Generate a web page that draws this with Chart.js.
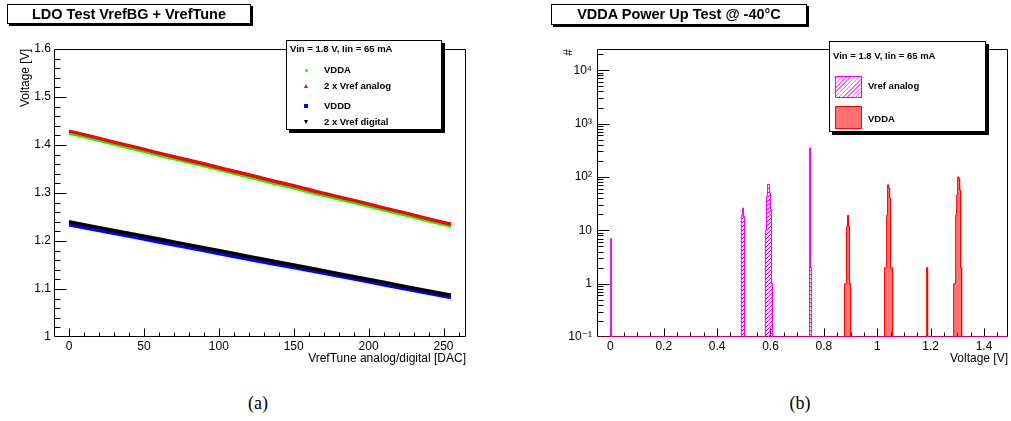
<!DOCTYPE html>
<html><head><meta charset="utf-8">
<script src="https://cdn.jsdelivr.net/npm/chart.js@4/dist/chart.umd.min.js"></script>
<style>
body{margin:0;width:1011px;height:421px;background:#fff;position:relative;overflow:hidden;font-family:"Liberation Sans",Arial,sans-serif;color:#000;}
canvas{position:absolute;top:0;}
#cA{left:0;} #cB{left:505px;}
.tbox{position:absolute;border:1px solid #000;background:#fff;box-shadow:2px 2px 0 #000;font-weight:bold;font-size:14.5px;text-align:center;box-sizing:border-box;white-space:nowrap;}
.leg{position:absolute;border:1px solid #000;background:#fff;box-shadow:3px 3px 0 #000;box-sizing:border-box;font-weight:bold;font-size:9.5px;white-space:nowrap;}
.leg span{position:absolute;}
.cap{position:absolute;font-family:"Liberation Serif","Times New Roman",serif;font-size:18px;width:60px;text-align:center;}
.mk{position:absolute;}
</style>
</head><body>
<canvas id="cA" width="505" height="370"></canvas>
<canvas id="cB" width="506" height="370"></canvas>

<div class="tbox" style="left:7px;top:4px;width:244px;height:20px;line-height:18px;">LDO Test VrefBG + VrefTune</div>
<div class="tbox" style="left:551px;top:4px;width:256px;height:21px;line-height:19px;">VDDA Power Up Test @ -40°C</div>

<div class="leg" style="left:286px;top:40px;width:156px;height:90px;">
  <span style="left:3px;top:2px;">Vin = 1.8 V, Iin = 65 mA</span>
  <div class="mk" style="left:18px;top:28px;width:3px;height:3px;border-radius:50%;background:#00ff00;"></div>
  <span style="left:37px;top:23px;">VDDA</span>
  <div class="mk" style="left:17px;top:43px;width:0;height:0;border-left:2.5px solid transparent;border-right:2.5px solid transparent;border-bottom:4px solid #ff0000;"></div>
  <span style="left:37px;top:39px;">2 x Vref analog</span>
  <div class="mk" style="left:17px;top:63px;width:4px;height:4px;background:#0000ff;"></div>
  <span style="left:37px;top:59px;">VDDD</span>
  <div class="mk" style="left:17px;top:79px;width:0;height:0;border-left:2.5px solid transparent;border-right:2.5px solid transparent;border-top:4px solid #000;"></div>
  <span style="left:37px;top:75px;">2 x Vref digital</span>
</div>

<div class="leg" style="left:829px;top:41px;width:157px;height:91px;">
  <span style="left:3px;top:8px;">Vin = 1.8 V, Iin = 65 mA</span>
  <div class="mk" style="left:5px;top:34px;width:27px;height:22px;box-sizing:border-box;border:1px solid #ff00ff;background:repeating-linear-gradient(-45deg,#ff66ff 0 1px,#fff 1px 3px);"></div>
  <span style="left:38px;top:38px;">Vref analog</span>
  <div class="mk" style="left:5px;top:64px;width:27px;height:23px;box-sizing:border-box;border:1px solid #ff0000;background:rgba(255,0,0,0.55);"></div>
  <span style="left:38px;top:71px;">VDDA</span>
</div>

<div class="cap" style="left:228px;top:393px;">(a)</div>
<div class="cap" style="left:770px;top:393px;">(b)</div>

<script>
// ---------- Panel (a) data ----------
const dacValues     = [0, 15, 30, 45, 60, 75, 90, 105, 120, 135, 150, 165, 180, 195, 210, 225, 240, 255];
const vdda          = [1.425, 1.414, 1.402, 1.391, 1.379, 1.368, 1.357, 1.345, 1.334, 1.322, 1.311, 1.299, 1.288, 1.277, 1.265, 1.254, 1.242, 1.231];
const vrefAnalog2x  = [1.429, 1.418, 1.406, 1.395, 1.383, 1.372, 1.361, 1.349, 1.338, 1.326, 1.315, 1.303, 1.292, 1.281, 1.269, 1.258, 1.246, 1.235];
const vddd          = [1.234, 1.225, 1.216, 1.207, 1.198, 1.189, 1.180, 1.171, 1.162, 1.153, 1.145, 1.136, 1.127, 1.118, 1.109, 1.100, 1.091, 1.082];
const vrefDigital2x = [1.240, 1.231, 1.222, 1.213, 1.204, 1.195, 1.186, 1.177, 1.168, 1.159, 1.150, 1.141, 1.132, 1.123, 1.114, 1.105, 1.096, 1.087];
const xTicksA = [0, 50, 100, 150, 200, 250];
const yTicksA = [1, 1.1, 1.2, 1.3, 1.4, 1.5, 1.6];

// ---------- Panel (b) data (histogram bins: lower edge + count) ----------
const binWidth = 0.00375;
const vrefBinStart = [0, 0.49125, 0.495, 0.49875, 0.58125, 0.585, 0.58875, 0.5925, 0.59625, 0.6, 0.60375, 0.74625, 0.75];
const vrefCounts   = [7, 19, 26, 18, 10, 44, 73, 72, 50, 25, 1, 350, 2];
const vddaBinStart = [0.8775, 0.88125, 0.885, 0.88875, 0.8925, 0.89625, 1.0275, 1.03125, 1.035, 1.03875, 1.0425, 1.04625, 1.05, 1.05375, 1.185, 1.28625, 1.29, 1.29375, 1.2975, 1.30125, 1.305, 1.30875, 1.3125];
const vddaCounts   = [1, 1, 12, 19, 12, 1, 2, 2, 19, 71, 62, 40, 2, 2, 2, 1, 1, 19, 45, 100, 92, 57, 2];
const xTicksB = [0, 0.2, 0.4, 0.6, 0.8, 1, 1.2, 1.4];
const yTicksB = [0.1, 1, 10, 100, 1000, 10000];
const yTickLabelsB = ['10\u207B\u00B9', '1', '10', '10\u00B2', '10\u00B3', '10\u2074'];

// ---------- helpers ----------
const FONT = {family: '"Liberation Sans", "DejaVu Sans", Arial, sans-serif', size: 12};
function fmt(v) { return String(Number(v.toFixed(2))); }
function range(a, b, step) { const r = []; for (let v = a; v <= b + 1e-9; v += step) r.push(Number(v.toFixed(6))); return r; }

const rootFrame = {
  id: 'rootFrame',
  beforeDatasetsDraw(chart, args, o) {
    const {ctx, chartArea: a} = chart;
    const xs = chart.scales.x, ys = chart.scales.y;
    ctx.save();
    ctx.strokeStyle = '#000'; ctx.lineWidth = 1;
    ctx.beginPath();
    const L = Math.round(a.left) + 0.5, T = Math.round(a.top) + 0.5, R = Math.round(a.right) - 0.5, B = Math.round(a.bottom) - 0.5;
    ctx.rect(L, T, R - L, B - T);
    const xt = (vals, len) => vals.forEach(v => { const p = Math.round(xs.getPixelForValue(v)) + 0.5; if (p <= L || p >= R) return; ctx.moveTo(p, B); ctx.lineTo(p, B - len); });
    const yt = (vals, len) => vals.forEach(v => { const p = Math.round(ys.getPixelForValue(v)) + 0.5; if (p <= T || p >= B) return; ctx.moveTo(L, p); ctx.lineTo(L + len, p); });
    xt(o.xMajor, o.xMajLen); xt(o.xMinor, o.xMinLen);
    yt(o.yMajor, o.yMajLen); yt(o.yMinor, o.yMinLen);
    ctx.stroke();
    ctx.restore();
  }
};

// ---------- Panel (a) ----------
const pts = arr => dacValues.map((x, i) => ({x, y: arr[i]}));
new Chart(document.getElementById('cA'), {
  type: 'scatter',
  data: { datasets: [
    {label: 'VDDA', data: pts(vdda), showLine: true, borderColor: '#00ff00', backgroundColor: '#00ff00', borderWidth: 3.5, pointRadius: 0, order: 2},
    {label: '2 x Vref analog', data: pts(vrefAnalog2x), showLine: true, borderColor: '#ff0000', backgroundColor: '#ff0000', borderWidth: 3.5, pointRadius: 0, order: 1},
    {label: 'VDDD', data: pts(vddd), showLine: true, borderColor: '#0000ff', backgroundColor: '#0000ff', borderWidth: 3.5, pointRadius: 0, order: 4},
    {label: '2 x Vref digital', data: pts(vrefDigital2x), showLine: true, borderColor: '#000000', backgroundColor: '#000000', borderWidth: 3.5, pointRadius: 0, order: 3}
  ]},
  options: {
    responsive: false, animation: false, devicePixelRatio: 1,
    layout: {padding: {left: 0, right: 39, top: 49, bottom: 0}},
    plugins: {legend: {display: false}, tooltip: {enabled: false},
      rootFrame: {xMajor: xTicksA, xMinor: range(-10, 265, 10).filter(v => v % 50 !== 0), xMajLen: 8, xMinLen: 4,
                  yMajor: yTicksA, yMinor: range(1, 1.6, 0.02), yMajLen: 12, yMinLen: 6}},
    scales: {
      x: {type: 'linear', min: -10, max: 265,
          afterBuildTicks: s => { s.ticks = xTicksA.map(v => ({value: v})); },
          afterFit: s => { s.height = 33; },
          grid: {display: false, drawTicks: false}, border: {display: false},
          ticks: {font: FONT, color: '#000', padding: 2, maxRotation: 0, autoSkip: false, callback: v => fmt(v)},
          title: {display: true, text: 'VrefTune analog/digital [DAC]', align: 'end', font: FONT, color: '#000', padding: {top: 0, bottom: 4}}},
      y: {type: 'linear', min: 1, max: 1.6,
          afterBuildTicks: s => { s.ticks = yTicksA.map(v => ({value: v})); },
          afterFit: s => { s.width = 54; },
          grid: {display: false, drawTicks: false}, border: {display: false},
          ticks: {font: FONT, color: '#000', padding: 3, autoSkip: false, callback: v => fmt(v)},
          title: {display: true, text: 'Voltage [V]', align: 'end', font: FONT, color: '#000', padding: {top: 18, bottom: 0}}}
    }
  },
  plugins: [rootFrame]
});

// ---------- Panel (b) ----------
function histLine(starts, counts, floor, xFrom, xTo) {
  const out = [{x: xFrom, y: floor}];
  const eq = (a, b) => Math.abs(a - b) < 1e-6;
  for (let i = 0; i < starts.length; i++) {
    const lo = starts[i], hi = lo + binWidth;
    if (i === 0 || !eq(starts[i - 1] + binWidth, lo)) out.push({x: lo, y: floor});
    out.push({x: lo, y: counts[i]});
    out.push({x: hi, y: counts[i]});
    if (i === starts.length - 1 || !eq(starts[i + 1], hi)) out.push({x: hi, y: floor});
  }
  out.push({x: xTo, y: floor});
  return out;
}
const hatch = (() => {
  const c = document.createElement('canvas'); c.width = 4; c.height = 4;
  const g = c.getContext('2d');
  g.strokeStyle = '#ff00ff'; g.lineWidth = 1;
  g.beginPath(); g.moveTo(0, 4); g.lineTo(4, 0); g.moveTo(-1, 1); g.lineTo(1, -1); g.moveTo(3, 5); g.lineTo(5, 3); g.stroke();
  return g.createPattern(c, 'repeat');
})();

const yMinorB = [];
for (let d = -1; d <= 4; d++) for (let k = 2; k <= 9; k++) yMinorB.push(k * Math.pow(10, d));

new Chart(document.getElementById('cB'), {
  type: 'line',
  data: { datasets: [
    {label: 'VDDA', data: histLine(vddaBinStart, vddaCounts, 0.1, -0.05, 1.49), borderColor: '#ff0000', backgroundColor: 'rgba(255,0,0,0.55)', fill: 'start', borderWidth: 1, pointRadius: 0, tension: 0, order: 2},
    {label: 'Vref analog', data: histLine(vrefBinStart, vrefCounts, 0.1, 0, 1.49), borderColor: '#ff00ff', backgroundColor: hatch, fill: 'start', borderWidth: 1, pointRadius: 0, tension: 0, order: 1}
  ]},
  options: {
    responsive: false, animation: false, devicePixelRatio: 1,
    layout: {padding: {left: 0, right: 3, top: 49, bottom: 0}},
    plugins: {legend: {display: false}, tooltip: {enabled: false},
      rootFrame: {xMajor: xTicksB, xMinor: range(-0.05, 1.45, 0.05), xMajLen: 8, xMinLen: 4,
                  yMajor: yTicksB, yMinor: yMinorB, yMajLen: 12, yMinLen: 6}},
    scales: {
      x: {type: 'linear', min: -0.05, max: 1.49,
          afterBuildTicks: s => { s.ticks = xTicksB.map(v => ({value: v})); },
          afterFit: s => { s.height = 33; },
          grid: {display: false, drawTicks: false}, border: {display: false},
          ticks: {font: FONT, color: '#000', padding: 2, maxRotation: 0, autoSkip: false, callback: v => fmt(v)},
          title: {display: true, text: 'Voltage [V]', align: 'end', font: FONT, color: '#000', padding: {top: 0, bottom: 4}}},
      y: {type: 'logarithmic', min: 0.1, max: 25000,
          afterBuildTicks: s => { s.ticks = yTicksB.map(v => ({value: v})); },
          afterFit: s => { s.width = 92; },
          grid: {display: false, drawTicks: false}, border: {display: false},
          ticks: {font: FONT, color: '#000', padding: 5, autoSkip: false, callback: (v, i) => yTickLabelsB[i]},
          title: {display: true, text: '#', align: 'end', font: FONT, color: '#000', padding: {top: 56, bottom: 0}}}
    }
  },
  plugins: [rootFrame]
});
</script>
</body></html>
